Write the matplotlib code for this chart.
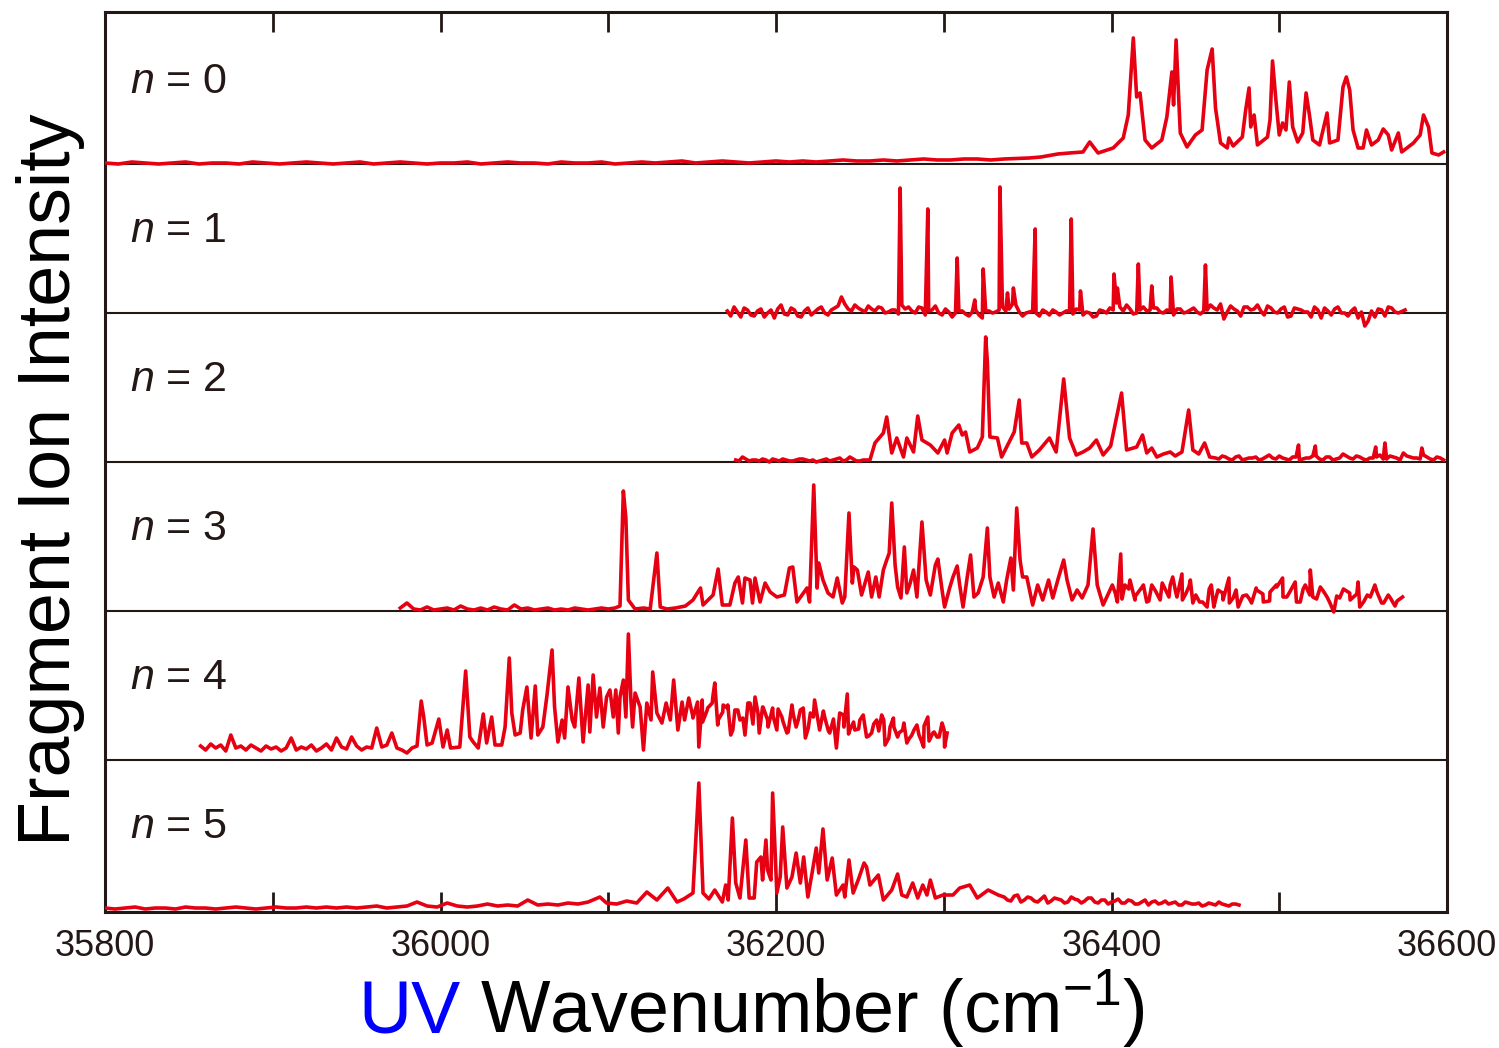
import numpy as np
import matplotlib
matplotlib.use("Agg")
import matplotlib.pyplot as plt
from matplotlib.ticker import MultipleLocator

plt.rcParams['font.family'] = ['Liberation Sans', 'DejaVu Sans']
plt.rcParams['mathtext.fontset'] = 'custom'
plt.rcParams['mathtext.rm'] = 'Liberation Sans'
plt.rcParams['mathtext.it'] = 'Liberation Sans:italic'

##################
##  Data        ##
##################
# intensities in arbitrary units (about 150 units = one panel height)
# noise grids: (start cm-1, step cm-1, values); peaks: wavenumber / intensity

# ---- n = 0
n0_grid = [(35800, 8, [1, 0, 2, 1, 0, 1, 2, 0, 1, 1, 0, 2, 1, 0, 1, 2, 1, 0, 1, 2, 0, 1, 2, 1,
                       0, 1, 1, 2, 0, 1, 2, 1, 1, 0, 2, 1, 1, 2, 0, 1, 2, 1, 2, 3, 1, 2, 3, 2,
                       1, 2, 3, 2, 3, 2, 3, 4, 3, 3, 4, 3, 4, 5, 4, 4, 5, 5, 4, 5])]
n0_wn = [36351, 36358, 36368, 36375, 36383, 36387, 36392, 36401, 36407, 36410, 36413, 36415,
         36417, 36420, 36424, 36430, 36433, 36436, 36437, 36438.5, 36441, 36445, 36450, 36454,
         36457, 36460, 36462, 36465, 36469, 36470, 36472.5, 36478, 36480, 36482, 36483, 36485,
         36487, 36493, 36494.5, 36496, 36498, 36500, 36502, 36504, 36506, 36508, 36511, 36514,
         36516, 36518, 36520, 36524, 36528.5, 36530, 36535, 36538, 36540, 36542, 36544, 36547,
         36550, 36552, 36555, 36559, 36562, 36565, 36567, 36571, 36573, 36580, 36584, 36586,
         36589, 36591, 36595, 36598]
n0_int = [6, 7, 10, 11, 12, 22, 11, 16, 26, 49, 126, 67,
          71, 24, 16, 24, 47, 92, 59, 124, 31, 17, 29, 34,
          94, 115, 56, 21, 16, 26, 18, 27, 54, 76, 37, 49,
          19, 27, 44, 103, 64, 29, 41, 34, 82, 37, 22, 31,
          71, 49, 24, 19, 51, 21, 24, 77, 87, 74, 34, 16,
          16, 34, 19, 24, 35, 29, 14, 31, 12, 21, 29, 49,
          37, 11, 9, 12]

# ---- n = 1
n1_grid = [(36171, 4, [2, 6, -4, 3, -3, 4, 0, -5, 8, -2, 3, -4, 5, 1, 6, -2, 5, 16, 4, 8, 3, 7,
                       2, 5, 1, 3, 8, 6, 0, 5, 2, 7, -2, 1, 0, 2, -3, 3, -5, 2, 1, 6, 4, 8, -3,
                       1, 0, 3, -2, 1, 0, 2, 4, -2, 0, -3, 2, 5, 10, 2, 4, 0, 6, 3, 5, 0, 2, 4,
                       0, 3, 1, 2, 8, 3, -6, 7, 2, 6, 3, 8, -2, 5, 0, 6, -3, 4, 1, -4, 3, 5, -2,
                       6, 0, 2, -5, -13, 2, 4, -3, 5, 0, 3]),
           (36173, 4, [-3, 1, 5, -2, 2, -4, 3, 4, -1, 5, -3, 2, -2, 4, 0, 3, 7, 9, 2, 5,
                       1, 4, 6, 0, 3, -1, 4, 2, 6, -2, 3, 0, 4, -4, 2, -1, 1, -2, 2, 0,
                       3, 2, 9, 1, 0, 2, -3, 1, 3, -2, 2, -1, 3, 1, -4, 3, 0, 3, 6, 8,
                       -1, 3, 2, 5, 1, 3, -2, 4, 1, 5, -1, 3, 5, 9, 1, 4, -3, 6, 4, 2,
                       7, 1, 4, -4, 5, 3, 1, 6, -5, 2, 4, 0, -3, 5, 1, -8, -4, 3, 6, 1])]
n1_wn = [36274, 36290.5, 36308, 36318.5, 36323.5, 36333.5, 36338, 36341.5, 36354.5, 36376,
         36381.5, 36401.5, 36403.5, 36416, 36424, 36435.5, 36456]
n1_int = [125, 104, 55, 13, 44, 126, 20, 25, 84, 94,
          22, 39, 25, 49, 27, 36, 48]

# ---- n = 2
n2_grid = [(36176, 4, [2, 5, 1, 2, 3, 0, 2, 3, 1, 2, 3, 1, 0, 2, 1, 3, 1, 5, 1, 2]),
           (36178, 4, [1, 3, 2, 1, 2, 3, 1, 2, 1, 3, 2, 2, 1, 3, 2, 4, 2, 3, 1]),
           (36462, 4, [4, 6, 3, 5, 2, 4, 5, 3, 7, 3, 4, 2, 5, 3, 4, 6, 2, 5, 3, 8, 4, 6, 3, 4,
                       5, 3, 6, 4, 9, 5, 4, 7, 3, 5, 2]),
           (36464, 4, [3, 5, 2, 6, 3, 4, 2, 5, 4, 6, 3, 5, 2, 4, 6, 3, 5, 2, 4, 6, 3, 5, 2, 4,
                       7, 3, 5, 2, 6, 4, 3, 5, 2, 4])]
n2_wn = [36256, 36259, 36264, 36266, 36269, 36272, 36276, 36278, 36282, 36284.5, 36287, 36292,
         36296.5, 36300.5, 36302, 36305, 36309, 36311, 36313, 36315.5, 36320, 36323, 36325,
         36326, 36327.5, 36332, 36334.5, 36342, 36345, 36346.5, 36349.5, 36352.5, 36357, 36363,
         36367, 36371.5, 36375, 36379, 36383, 36387, 36391, 36395, 36399.5, 36406, 36409, 36415,
         36418.5, 36421, 36424, 36427, 36431, 36435, 36438, 36442, 36446, 36448.5, 36452,
         36455.5, 36458.5, 36511.5, 36521.5, 36557.5, 36563, 36585]
n2_int = [2, 19, 29, 45, 9, 24, 5, 24, 10, 46, 22, 17,
          9, 22, 9, 29, 37, 27, 30, 10, 14, 25, 125,
          100, 25, 24, 5, 30, 62, 19, 19, 5, 12, 24,
          10, 83, 24, 7, 10, 14, 22, 7, 16, 69, 12, 15,
          27, 9, 14, 5, 8, 10, 6, 10, 52, 12, 8,
          19, 5, 17, 16, 15, 19, 14]

# ---- n = 3
n3_grid = [(35976, 4, [3, 8, 2, 1, 4, 1, 2, 3, 1, 5, 2, 1, 3, 1, 4, 2, 1, 6, 2, 3, 1, 2, 3, 1,
                       2, 1, 3, 2, 1, 2, 3, 2, 3]),
           (36402.25, 4, [18, 12, 22, 15, 24, 10, 20, 28, 14, 19, 11, 25, 16, 9, 22, 13, 18, 8,
                          21, 15, 12, 23, 17, 10, 26, 14, 19, 9, 22, 16, 12, 20, 8, 15, 22, 11,
                          17, 9, 14, 19, 8, 13, 10])]
n3_wn = [36107, 36109, 36110.5, 36112, 36116, 36121, 36125, 36129, 36131, 36135, 36140, 36146,
         36150.5, 36155, 36156.5, 36162.5, 36165.5, 36168, 36172.5, 36175.5, 36177.5, 36180,
         36181.5, 36184.5, 36186, 36187.5, 36190.5, 36193.5, 36196.5, 36200.5, 36205, 36208,
         36210, 36212.5, 36218.5, 36220, 36222.5, 36224.5, 36225.5, 36228, 36231, 36234,
         36236.5, 36239.5, 36241, 36243.5, 36245.5, 36246.5, 36248.5, 36251, 36255, 36257,
         36259.5, 36261.5, 36264, 36266, 36267.5, 36269, 36271, 36272.5, 36274.5, 36276.5,
         36278, 36280, 36282, 36284, 36287, 36289.5, 36292, 36295, 36296.5, 36299, 36300.5,
         36303.5, 36305.5, 36308, 36309.5, 36311.5, 36314, 36316, 36318, 36320.5, 36323.5,
         36326, 36327.5, 36330, 36332.5, 36335.5, 36337.5, 36340, 36341.5, 36343.5, 36345.5,
         36347, 36349.5, 36353, 36356, 36359, 36362.5, 36365, 36368.5, 36371.5, 36373.5,
         36376.5, 36379.5, 36382.5, 36386, 36389, 36391.5, 36395, 36400.5, 36403.5, 36405.5,
         36408, 36411, 36414, 36419, 36421, 36424, 36429, 36435, 36436.5, 36439, 36442,
         36444.5, 36447, 36448.5, 36452.5, 36457, 36459.5, 36461, 36463.5, 36466.5, 36470,
         36472.5, 36475.5, 36480.5, 36483.5, 36486.5, 36490.5, 36494.5, 36498.5, 36502,
         36504.5, 36509.5, 36512.5, 36515.5, 36518.5, 36520, 36524.5, 36528.5, 36532.5, 36536,
         36542, 36547, 36548, 36552.5, 36557, 36561, 36565, 36569, 36573.5]
n3_int = [5, 120, 93, 11, 2, 3, 2, 58, 4, 2, 3, 5,
          11, 23, 6, 16, 42, 6, 6, 28, 34, 8,
          33, 31, 8, 33, 9, 28, 19, 14, 16, 43,
          44, 9, 23, 9, 126, 23, 48, 31, 18, 14,
          33, 8, 14, 98, 28, 44, 41, 16, 39, 14,
          34, 14, 41, 51, 58, 108, 46, 24, 13, 64,
          18, 28, 41, 14, 89, 31, 16, 46, 52, 21, 4,
          23, 34, 45, 26, 4, 34, 56, 14, 18, 34,
          83, 34, 14, 28, 9, 31, 53, 21, 103, 51,
          34, 34, 6, 26, 11, 31, 13, 34, 51, 31,
          11, 21, 13, 26, 82, 26, 6, 26, 9, 57,
          26, 31, 11, 26, 9, 26, 11, 26, 34, 14, 37,
          18, 31, 8, 9, 4, 26, 4, 21, 11, 33,
          13, 4, 16, 8, 21, 9, 19, 24, 33,
          14, 29, 9, 26, 41, 14, 24, 14, -1, 13,
          18, 29, 4, 16, 26, 8, 16, 5, 14]

# ---- n = 4
n4_grid = [(35857, 3, [14, 10, 16, 12, 15, 9, 25, 12, 14, 10, 15, 12, 9, 14, 11, 13, 9, 12, 22,
                       10, 13, 11, 15, 9, 12, 16, 10, 22, 13, 11, 23, 14, 10, 13, 12, 32, 13,
                       15, 27, 12, 10, 7, 12]),
           (36150.25, 3, [45, 58, 38, 52, 62, 35, 48, 55, 30, 50, 42, 57, 36, 47, 53, 33, 44,
                          51, 38, 28, 46, 40, 52, 32, 43, 37, 49, 29, 41, 35, 45, 26, 38, 31,
                          42, 24, 36, 29, 40, 22, 33, 27, 37, 21, 30, 25, 34, 19, 28, 23, 30])]
n4_wn = [35986, 35988.5, 35990, 35992, 35995, 35999, 36001.5, 36004, 36006, 36011.5, 36015,
         36017.5, 36019.5, 36022.5, 36025.5, 36027.5, 36030.5, 36032.5, 36036.5, 36038.5, 36041,
         36042.5, 36044.5, 36047.5, 36049, 36051.5, 36054, 36056.5, 36058, 36061, 36063.5,
         36066.5, 36068, 36070, 36072.5, 36074, 36076, 36078.5, 36080, 36082.5, 36085, 36088,
         36089, 36091, 36093, 36095, 36097, 36099, 36101, 36103, 36104.5, 36106, 36107, 36109,
         36110.5, 36112, 36113.5, 36114.5, 36116, 36119, 36121, 36123, 36125.5, 36126.5, 36129,
         36132, 36134.5, 36137, 36139, 36141.5, 36144, 36145.5, 36148, 36150.5, 36154, 36156,
         36159, 36162, 36163.5, 36165.5, 36168.5, 36171, 36173, 36175.5, 36178.5, 36181.5,
         36184.5, 36187.5, 36190, 36192, 36195, 36198, 36200.5, 36203.5, 36206.5, 36209.5,
         36212, 36214.5, 36217.5, 36220.5, 36223, 36226, 36229, 36232, 36236, 36238, 36240.5,
         36242.5, 36244, 36247, 36250, 36252, 36254, 36257, 36260, 36263, 36265, 36268, 36270,
         36272.5, 36275.5, 36278, 36281, 36284, 36286.5, 36288, 36290.5, 36293.5, 36296, 36299,
         36300.5, 36302]
n4_int = [14, 59, 43, 15, 17, 41, 13, 30, 12, 13, 89,
          23, 18, 12, 46, 17, 43, 15, 15, 33, 102,
          47, 25, 27, 50, 73, 22, 74, 25, 33, 65,
          110, 53, 18, 40, 22, 73, 40, 33, 82, 18, 75,
          28, 85, 43, 72, 33, 63, 70, 43, 70, 27, 63, 80,
          43, 126, 60, 33, 67, 53, 10, 57, 40, 88, 47,
          37, 57, 40, 80, 30, 58, 40, 62, 42, 13, 60,
          50, 57, 77, 40, 55, 52, 25, 50, 40, 25,
          57, 63, 27, 53, 40, 52, 30, 43, 27, 55,
          33, 50, 22, 47, 60, 30, 43, 27, 12, 47, 33,
          66, 30, 30, 40, 45, 23, 27, 40, 45, 15, 33, 42,
          23, 30, 17, 25, 35, 20, 13, 43, 27, 23, 37,
          13, 27]

# ---- n = 5
n5_grid = [(35800, 6, [1, 0, 1, 2, 0, 1, 1, 0, 2, 1, 1, 0, 1, 2, 1, 0, 1, 2, 1, 1, 2, 1, 2, 1,
                       2, 1, 2, 3, 1, 2, 3, 7, 3, 2, 6, 3, 2, 3, 5, 3, 4, 3, 9, 4, 5, 4, 6, 5, 7]),
           (36336, 4, [12, 8, 14, 9, 11, 7, 13, 8, 10, 6, 12, 9, 8, 11, 6, 9, 7, 10, 6, 8, 5, 9,
                       7, 5, 8, 6, 4, 7, 5, 6, 4, 5, 7, 4, 5, 4]),
           (36338, 4, [9, 13, 7, 12, 8, 10, 6, 11, 9, 7, 10, 6, 11, 7, 9, 5, 8, 6, 9, 5, 7, 4,
                       8, 6, 5, 7, 4, 6, 5, 3, 6, 4, 5, 3, 5])]
n5_wn = [36095, 36099, 36105, 36111, 36117, 36123, 36129, 36135.5, 36141, 36145, 36150.5, 36154,
         36156.5, 36160, 36163.5, 36168, 36170, 36171.5, 36174, 36176, 36178.5, 36182, 36184,
         36187, 36188.5, 36191, 36192, 36194, 36195, 36197, 36198, 36200.5, 36202.5, 36204,
         36206.5, 36209.5, 36212, 36214.5, 36216.5, 36219, 36221.5, 36224, 36225.5, 36228,
         36230.5, 36233.5, 36236, 36240, 36241, 36243.5, 36246, 36249, 36252.5, 36254, 36256,
         36258.5, 36261, 36264, 36269, 36272.5, 36275, 36278, 36281.5, 36284.5, 36287.5, 36290,
         36292, 36295, 36299.5, 36305.5, 36309.5, 36315.5, 36320, 36326.5, 36332.5]
n5_int = [12, 6, 5, 8, 6, 17, 9, 21, 7, 10, 16, 126,
          16, 10, 19, 7, 24, 9, 91, 26, 11, 69, 11,
          11, 47, 52, 29, 69, 39, 29, 116, 16, 32, 82,
          21, 32, 56, 26, 52, 12, 36, 61, 36, 80,
          29, 51, 14, 24, 12, 49, 16, 29, 46, 42, 24,
          29, 34, 9, 19, 35, 14, 12, 26, 11, 24, 14,
          29, 11, 14, 14, 21, 24, 11, 19, 14]

panels = [(n0_grid, n0_wn, n0_int), (n1_grid, n1_wn, n1_int), (n2_grid, n2_wn, n2_int),
          (n3_grid, n3_wn, n3_int), (n4_grid, n4_wn, n4_int), (n5_grid, n5_wn, n5_int)]
panel_labels = ['0', '1', '2', '3', '4', '5']

x_ticks_major = 200
x_ticks_minor = 100
x_min, x_max = 35800, 36600

dark = '#231815'
red = '#e60012'
scale = 149.0   # intensity units per panel


def build(grids, wn, inten):
    xs = list(wn)
    ys = list(inten)
    for start, step, vals in grids:
        xs += list(start + step * np.arange(len(vals)))
        ys += list(vals)
    xs = np.array(xs, float)
    ys = np.array(ys, float)
    order = np.argsort(xs, kind='stable')
    return xs[order], ys[order]


fig = plt.figure(figsize=(14.99, 10.48), dpi=100)
ax = fig.add_axes([105/1499, 1 - 912/1048, 1342/1499, 900/1048])

n_pan = len(panels)
for k, (grids, wn, inten) in enumerate(panels):
    base = n_pan - 1 - k
    x, y = build(grids, wn, inten)
    ax.plot(x, base + y/scale, color=red, lw=2.6, zorder=3, solid_joinstyle='round')
    if base > 0:
        ax.axhline(base, color=dark, lw=1.5, zorder=2)
    ax.text(35815, base + 0.477, r'$n$ = ' + panel_labels[k], fontsize=31,
            color=dark, ha='left', va='baseline')

ax.set_xlim(x_min, x_max)
ax.set_ylim(-0.02, 6.02)
ax.xaxis.set_major_locator(MultipleLocator(x_ticks_major))
ax.xaxis.set_minor_locator(MultipleLocator(x_ticks_minor))
ax.set_yticks([6.02])
ax.set_yticklabels([])
ax.tick_params(axis='x', which='both', direction='in', top=True, bottom=True,
               length=14.5, width=2.0, color=dark, labelsize=26, labelcolor=dark, pad=12)
ax.tick_params(axis='y', which='both', direction='in', left=True, right=True,
               length=16, width=2.0, color=dark)
for s in ax.spines.values():
    s.set_linewidth(2.2)
    s.set_color(dark)

fig.text(51/1499, 0.542, 'Fragment Ion Intensity', rotation=90, fontsize=53,
         ha='center', va='center', color='black')

r = fig.canvas.get_renderer()
t1 = fig.text(358/1499, 1 - 1033/1048, 'UV', fontsize=53, color='#0000ff',
              ha='left', va='baseline')
bb = t1.get_window_extent(renderer=r)
fig.text(bb.x1/fig.bbox.width, 1 - 1033/1048, r' Wavenumber (cm$^{-1}$)', fontsize=53,
         color='black', ha='left', va='baseline')

fig.savefig('out.png', dpi=100)
